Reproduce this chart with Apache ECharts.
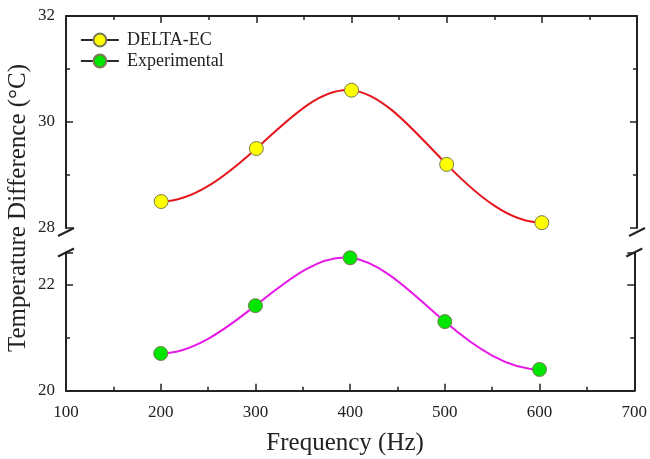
<!DOCTYPE html>
<html>
<head>
<meta charset="utf-8">
<script src="https://cdn.jsdelivr.net/npm/echarts@6/dist/echarts.min.js"></script>
<style>
  html, body { margin: 0; padding: 0; background: #fff; }
  #chart { width: 650px; height: 459px; }
</style>
</head>
<body>
<div id="chart"></div>
<script>
// Frequency sweep (Hz) and temperature difference (°C)
const frequencies = [200, 300, 400, 500, 600];
const deltaEC = [28.5, 29.5, 30.6, 29.2, 28.1];
const experimental = [20.7, 21.6, 22.5, 21.3, 20.4];

// Axis ranges on either side of the y-axis break
const xRange = [100, 700];
const upperRange = [28, 32];
const lowerRange = [20, 22.6];

const FONT = '"Liberation Serif", "Times New Roman", serif';
const INK = '#222';

const pairs = ys => frequencies.map((f, i) => [f, ys[i]]);

// Slopes of a clamped cubic spline (flat at both ends) through the points
function splineSlopes(xs, ys) {
  const n = xs.length;
  const m = new Array(n).fill(0);
  if (n < 3) return m;
  const k = n - 2;
  const a = [], b = [], c = [], d = [];
  for (let i = 1; i <= k; i++) {
    const h0 = xs[i] - xs[i - 1], h1 = xs[i + 1] - xs[i];
    a.push(1 / h0);
    b.push(2 * (1 / h0 + 1 / h1));
    c.push(1 / h1);
    d.push(3 * ((ys[i] - ys[i - 1]) / (h0 * h0) + (ys[i + 1] - ys[i]) / (h1 * h1)));
  }
  for (let i = 1; i < k; i++) {
    const w = a[i] / b[i - 1];
    b[i] -= w * c[i - 1];
    d[i] -= w * d[i - 1];
  }
  const sol = new Array(k);
  sol[k - 1] = d[k - 1] / b[k - 1];
  for (let i = k - 2; i >= 0; i--) sol[i] = (d[i] - c[i] * sol[i + 1]) / b[i];
  for (let i = 0; i < k; i++) m[i + 1] = sol[i];
  return m;
}

// Custom series that draws the spline as bezier segments through the axis scales
function curveSeries(name, ys, xAxisIndex, yAxisIndex, color) {
  const slopes = splineSlopes(frequencies, ys);
  return {
    name, type: 'custom', xAxisIndex, yAxisIndex, z: 2, silent: true,
    data: pairs(ys),
    renderItem(params, api) {
      const i = params.dataIndex;
      if (i >= frequencies.length - 1) return null;
      const x0 = frequencies[i], x1 = frequencies[i + 1];
      const h = (x1 - x0) / 3;
      const p0 = api.coord([x0, ys[i]]);
      const c0 = api.coord([x0 + h, ys[i] + slopes[i] * h]);
      const c1 = api.coord([x1 - h, ys[i + 1] - slopes[i + 1] * h]);
      const p1 = api.coord([x1, ys[i + 1]]);
      return {
        type: 'bezierCurve',
        shape: { x1: p0[0], y1: p0[1], x2: p1[0], y2: p1[1],
                 cpx1: c0[0], cpy1: c0[1], cpx2: c1[0], cpy2: c1[1] },
        style: { stroke: color, lineWidth: 2, fill: null }
      };
    }
  };
}

function markerSeries(name, ys, xAxisIndex, yAxisIndex, fill) {
  return {
    name, type: 'line', xAxisIndex, yAxisIndex, z: 4,
    data: pairs(ys),
    symbol: 'circle', symbolSize: 14, showSymbol: true,
    lineStyle: { opacity: 0 },
    itemStyle: { color: fill, borderColor: '#7a7a55', borderWidth: 1 }
  };
}

const chart = echarts.init(document.getElementById('chart'), null, { renderer: 'canvas' });

function xAxisCfg(gridIndex, position, showLabels) {
  return {
    type: 'value', gridIndex, position,
    min: xRange[0], max: xRange[1], interval: 100,
    axisLine: { show: true, onZero: false, lineStyle: { color: INK, width: 2 } },
    axisTick: { show: true, inside: true, length: 7, lineStyle: { color: INK, width: 1.5 } },
    minorTick: { show: true, splitNumber: 2, length: 4, lineStyle: { color: INK, width: 1.5 } },
    axisLabel: { show: showLabels, color: INK, fontFamily: FONT, fontSize: 17, margin: 13 },
    splitLine: { show: false }
  };
}

function yAxisCfg(gridIndex, position, range, showLabels) {
  return {
    type: 'value', gridIndex, position,
    min: range[0], max: range[1], interval: 2,
    axisLine: { show: true, onZero: false, lineStyle: { color: INK, width: 2 } },
    axisTick: { show: true, inside: true, length: 7, lineStyle: { color: INK, width: 1.5 } },
    minorTick: { show: true, splitNumber: 2, length: 4, lineStyle: { color: INK, width: 1.5 } },
    axisLabel: {
      show: showLabels, color: INK, fontFamily: FONT, fontSize: 17, margin: 11,
      formatter: v => (Number.isInteger(v) ? String(v) : '')
    },
    splitLine: { show: false }
  };
}

chart.setOption({
  backgroundColor: '#fff',
  animation: false,
  grid: [
    { left: 66, right: 13, top: 16, height: 212 },
    { left: 66, right: 13, top: 252.5, height: 138.2 }
  ],
  xAxis: [
    xAxisCfg(0, 'top', false),
    xAxisCfg(1, 'bottom', true)
  ],
  yAxis: [
    yAxisCfg(0, 'left', upperRange, true),
    yAxisCfg(0, 'right', upperRange, false),
    yAxisCfg(1, 'left', lowerRange, true),
    yAxisCfg(1, 'right', lowerRange, false)
  ],
  legend: {
    orient: 'vertical', left: 75, top: 26,
    itemWidth: 38, itemHeight: 16, itemGap: 3,
    textStyle: { color: INK, fontFamily: FONT, fontSize: 18, padding: [0, 0, 0, 3] },
    lineStyle: { color: '#2a2a2a', width: 1.8, opacity: 1 },
    data: ['DELTA-EC', 'Experimental']
  },
  series: [
    curveSeries('DELTA-EC curve', deltaEC, 0, 0, '#e5161d'),
    curveSeries('Experimental curve', experimental, 1, 2, '#e619e6'),
    markerSeries('DELTA-EC', deltaEC, 0, 0, '#ffff00'),
    markerSeries('Experimental', experimental, 1, 2, '#00e600')
  ]
});

// Axis titles and break marks, placed from the axes' own pixel mapping
function decorate() {
  const topLeft = chart.convertToPixel({ xAxisIndex: 0, yAxisIndex: 0 }, [xRange[0], upperRange[0]]);
  const topRight = chart.convertToPixel({ xAxisIndex: 0, yAxisIndex: 0 }, [xRange[1], upperRange[0]]);
  const lowLeft = chart.convertToPixel({ xAxisIndex: 1, yAxisIndex: 2 }, [xRange[0], lowerRange[1]]);
  const lowRight = chart.convertToPixel({ xAxisIndex: 1, yAxisIndex: 2 }, [xRange[1], lowerRange[1]]);
  const bottomMid = chart.convertToPixel({ xAxisIndex: 1, yAxisIndex: 2 }, [(xRange[0] + xRange[1]) / 2, lowerRange[0]]);

  const slash = (x, y) => ({
    type: 'line',
    shape: { x1: x - 8, y1: y + 4, x2: x + 8, y2: y - 4 },
    style: { stroke: INK, lineWidth: 2 }
  });

  chart.setOption({
    graphic: [
      slash(topLeft[0], topLeft[1] + 4),
      slash(topRight[0], topRight[1] + 4),
      slash(lowLeft[0], lowLeft[1]),
      slash(lowRight[0], lowRight[1]),
      {
        type: 'text', x: bottomMid[0] - 5, y: 443,
        style: {
          text: 'Frequency (Hz)', fill: INK, font: '25px ' + FONT,
          textAlign: 'center', textVerticalAlign: 'middle'
        }
      },
      {
        type: 'text', x: 18, y: 208,
        rotation: Math.PI / 2,
        style: {
          text: 'Temperature Difference (°C)', fill: INK, font: '25px ' + FONT,
          textAlign: 'center', textVerticalAlign: 'middle'
        }
      }
    ]
  });
}
decorate();
</script>
</body>
</html>
